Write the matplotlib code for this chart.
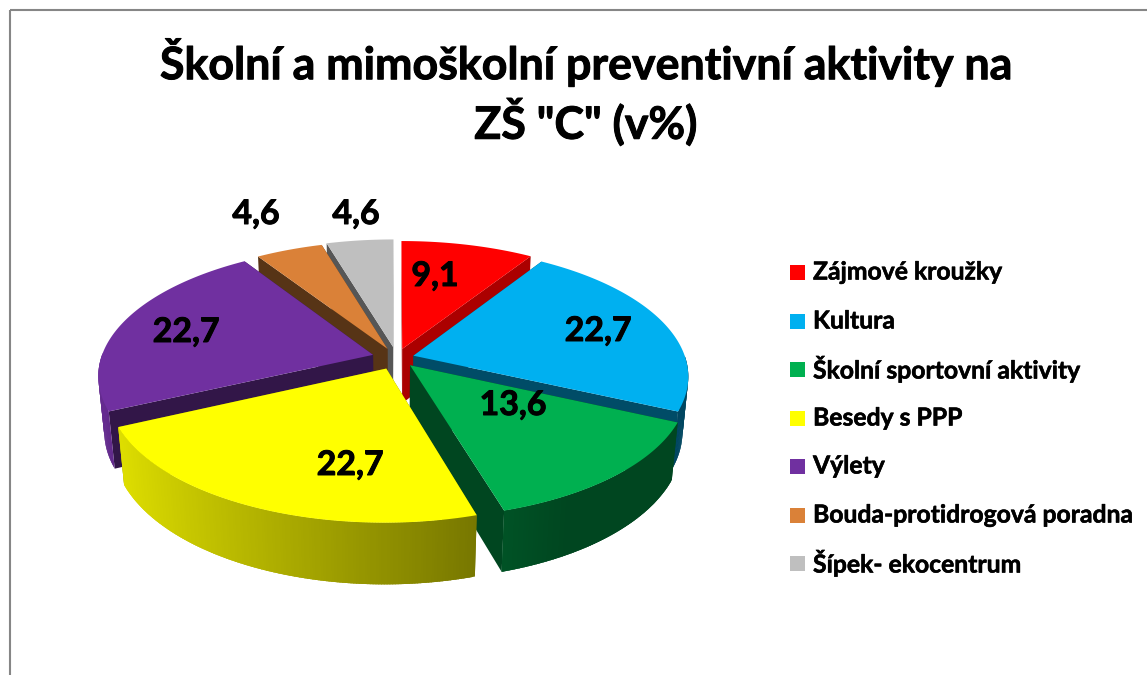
# -*- coding: utf-8 -*-
import numpy as np
import matplotlib
matplotlib.use("Agg")
import matplotlib.pyplot as plt
import matplotlib.patheffects as pe
from matplotlib.patches import Polygon, Rectangle

categories = ["Zájmové kroužky", "Kultura", "Školní sportovní aktivity", "Besedy s PPP",
              "Výlety", "Bouda-protidrogová poradna", "Šípek- ekocentrum"]
values = [9.1, 22.7, 13.6, 22.7, 22.7, 4.6, 4.6]
value_labels = ["9,1", "22,7", "13,6", "22,7", "22,7", "4,6", "4,6"]
colors = ["#FF0000", "#00B0F0", "#00B050", "#FFFF00", "#7030A0", "#DA8138", "#BFBFBF"]

title = 'Školní a mimoškolní preventivní aktivity na\nZŠ "C" (v%)'

# layout and look of the 3d pie, in pixels of the picture
explode = [0.075, 0.065, 0.075, 0.09, 0.09, 0.08, 0.09]
cut_shade = [0.67, 0.43, 0.40, 0.45, 0.45, 0.40, 0.45]
draw_order = [6, 5, 0, 1, 4, 2, 3]
label_xy = [(435, 276), (598, 331), (513, 405), (350, 465), (186, 332), (256, 214), (356, 214)]
legend_y = [272, 321, 369, 418, 466, 515, 563]
cx, cy = 396.5, 358
rx, ry, depth = 272, 127, 56
persp, persp_z = 0.153, 0.02

plt.rcParams['font.family'] = ['Lato', 'DejaVu Sans']
plt.rcParams['font.weight'] = 'bold'

# calibri bold in the original looks heavier than lato bold
heavy = [pe.withStroke(linewidth=0.7, foreground="black")]


def project(u, v, z):
    s = 1.0 / (1 + persp * v + persp_z * z)
    return cx + rx * u * s, cy - ry * v * s + depth * z * s


def rim(theta, off, z):
    return project(off[0] + np.sin(theta), off[1] + np.cos(theta), z)


def dim(color, f):
    return tuple(c * f for c in matplotlib.colors.to_rgb(color))


def wall_shade(theta):
    # lit from the left, like the excel chart
    return float(np.clip(0.565 - 0.339 * np.sin(theta), 0.40, 0.90))


fig = plt.figure(figsize=(11.47, 6.75), dpi=100)
ax = fig.add_axes([0, 0, 1, 1])
ax.set_xlim(0, 1147)
ax.set_ylim(675, 0)
ax.axis("off")

ax.add_patch(Rectangle((10, 10), 1200, 700, fill=False, ec="#868686", lw=1.5))

fractions = np.array(values) / sum(values)
edges = np.concatenate([[0], np.cumsum(fractions)]) * 2 * np.pi

for i in draw_order:
    a, b = edges[i], edges[i + 1]
    mid = (a + b) / 2
    off = (explode[i] * np.sin(mid), explode[i] * np.cos(mid))
    apex_top = project(off[0], off[1], 0)
    apex_bot = project(off[0], off[1], 1)
    z = 2 + draw_order.index(i)
    # cut faces
    for t in (a, b):
        ax.add_patch(Polygon([apex_top, rim(t, off, 0), rim(t, off, 1), apex_bot],
                             fc=dim(colors[i], cut_shade[i]), ec="none", zorder=z))
    # outer wall, only the part that faces us; strips overlap so no seams show
    thetas = np.linspace(a, b, int(np.degrees(b - a)) * 2 + 2)
    for t0, t1 in zip(thetas[:-1], thetas[1:]):
        if np.cos((t0 + t1) / 2) > 0:
            continue
        t2 = min(t1 + 0.012, b)
        col = dim(colors[i], wall_shade((t0 + t1) / 2))
        ax.add_patch(Polygon([rim(t0, off, 0), rim(t2, off, 0), rim(t2, off, 1), rim(t0, off, 1)],
                             fc=col, ec="none", zorder=z))
    top = [apex_top] + [rim(t, off, 0) for t in thetas]
    ax.add_patch(Polygon(top, fc=colors[i], ec="none", zorder=z + 0.5))

for (x, y), lab in zip(label_xy, value_labels):
    ax.text(x, y, lab, fontsize=24.4, ha="center", va="center", color="black", zorder=20, path_effects=heavy)

ax.text(586, 91.5, title, fontsize=32.2, ha="center", va="center", color="black", linespacing=1.22,
        zorder=20, path_effects=heavy)

for y, name, col in zip(legend_y, categories, colors):
    ax.add_patch(Rectangle((790, y - 7.5), 15, 15, fc=col, ec="none"))
    ax.text(813, y, name, fontsize=17.8, ha="left", va="center", color="black",
            path_effects=[pe.withStroke(linewidth=0.4, foreground="black")])

fig.savefig("out.png", dpi=100)
